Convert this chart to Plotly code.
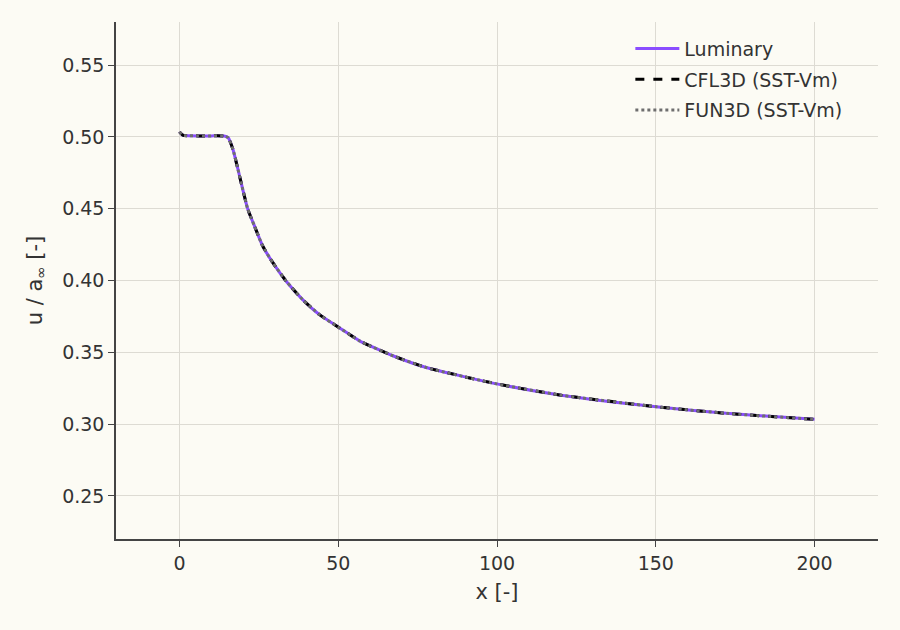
import plotly.graph_objects as go

# centreline velocity
x_vals = [0, 1, 3, 6, 10, 14, 15.3, 16.8, 18.4, 19.9, 21.5, 23.6, 26.2, 29.4, 33.6,
          38.8, 44.1, 50.4, 56.7, 67.2, 77.7, 99.9, 119.7, 150.1, 172.2, 200]
u_vals = [0.5035, 0.5012, 0.5008, 0.5007, 0.5007, 0.5006, 0.4995, 0.4916, 0.4776, 0.4636,
          0.4497, 0.438, 0.424, 0.4124, 0.3995, 0.3867, 0.3762, 0.367, 0.358, 0.3476,
          0.3394, 0.328, 0.3203, 0.3121, 0.3075, 0.3033]

series = ["Luminary", "CFL3D (SST-Vm)", "FUN3D (SST-Vm)"]
colors = ["#8a4dff", "#000000", "#6e6e6e"]
dashes = ["solid", "dash", "dot"]

bg = "#fcfbf4"
ink = "#333333"

fig = go.Figure()
for name, c, d in zip(series, colors, dashes):
    fig.add_trace(go.Scatter(x=x_vals, y=u_vals, mode="lines", name=name, legendgroup=name,
                             line=dict(color=c, width=3, dash=d, shape="spline", smoothing=0.5)))

axis_common = dict(showline=True, linecolor="#444444", linewidth=1.5,
                   ticks="outside", ticklen=6, tickcolor="#444444",
                   showgrid=True, gridcolor="#dddbd3", gridwidth=1,
                   zeroline=False, tickfont=dict(size=19, color=ink))

fig.update_layout(
    width=900, height=630,
    paper_bgcolor=bg, plot_bgcolor=bg,
    font=dict(family="DejaVu Sans", color=ink),
    margin=dict(l=116, r=22, t=22, b=91),
    xaxis=dict(range=[-20, 220], tickvals=[0, 50, 100, 150, 200],
               title=dict(text="x [-]", font=dict(size=21), standoff=12), **axis_common),
    yaxis=dict(range=[0.22, 0.58], tickvals=[0.25, 0.30, 0.35, 0.40, 0.45, 0.50, 0.55],
               tickformat=".2f",
               title=dict(text="u / a<sub>∞</sub> [-]", font=dict(size=21), standoff=14), **axis_common),
    legend=dict(x=0.675, y=0.985, xanchor="left", yanchor="top", bgcolor="rgba(0,0,0,0)",
                font=dict(size=19, color=ink), tracegroupgap=3, itemwidth=44),
    showlegend=True,
)

fig.write_html("out.html", config={"displayModeBar": False},
               post_script="document.body.style.margin='0';document.body.style.background='#fcfbf4';")
